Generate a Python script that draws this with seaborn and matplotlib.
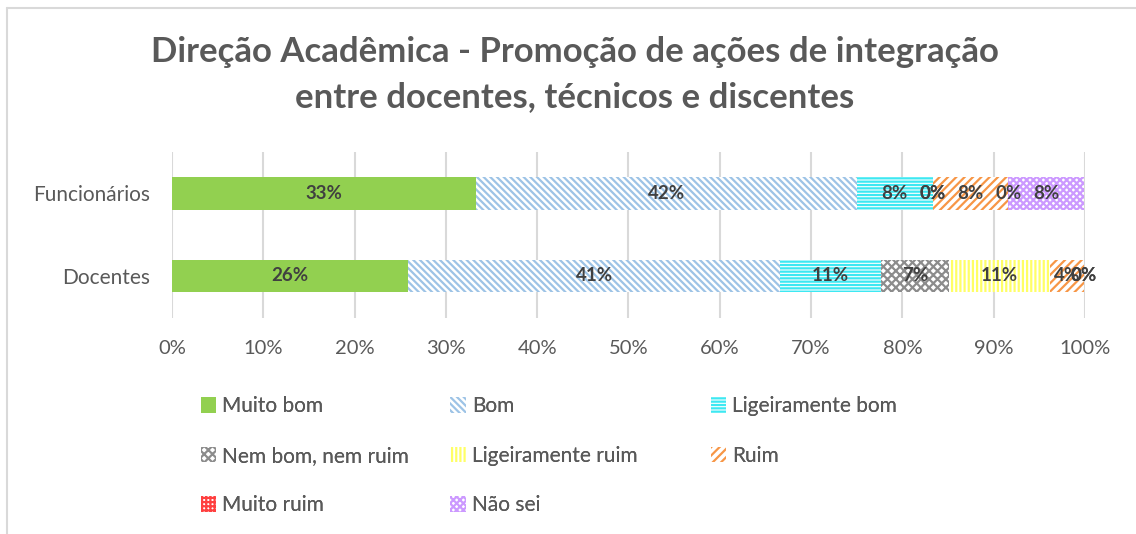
import numpy as np
import pandas as pd
import matplotlib
matplotlib.use("Agg")
import matplotlib.pyplot as plt
from matplotlib.patches import Patch
from matplotlib.lines import Line2D
import seaborn as sns

# --- data -------------------------------------------------------------
groups = ["Funcionários", "Docentes"]
categories = ["Muito bom", "Bom", "Ligeiramente bom", "Nem bom, nem ruim",
              "Ligeiramente ruim", "Ruim", "Muito ruim", "Não sei"]
funcionarios = [33.3, 41.7, 8.3, 0.0, 0.0, 8.3, 0.0, 8.3]
docentes = [25.9, 40.7, 11.1, 7.4, 11.1, 3.7, 0.0, 0.0]
xtick_labels = ["0%", "10%", "20%", "30%", "40%", "50%", "60%", "70%",
                "80%", "90%", "100%"]
title_text = ("Direção Acadêmica - Promoção de ações de integração\n"
              "entre docentes, técnicos e discentes")

# --- styles -----------------------------------------------------------
colors = ["#92D050", "#9DC3E6", "#3DE8F2", "#8C8C8C",
          "#FFFF66", "#F79646", "#FF4040", "#CC99FF"]
hatches = [None, "\\\\\\\\\\", "-----", "xxxx", "||||", "////", "++++", "xxxxx"]
text_grey = "#595959"

sns.set_theme(style="white")
plt.rcParams["font.family"] = ["Lato", "DejaVu Sans"]
plt.rcParams["hatch.linewidth"] = 1.6

fig = plt.figure(figsize=(11.36, 5.34), dpi=100)
ax = fig.add_axes([0.1514, 0.4045, 0.8037, 0.3109])

values = np.array([funcionarios, docentes])
cum = np.cumsum(values, axis=1)

# stacked bars: draw cumulative totals from the widest down, each covering the previous
for i in range(len(categories) - 1, -1, -1):
    df = pd.DataFrame({"grupo": groups, "total": cum[:, i]})
    solid = hatches[i] is None
    sns.barplot(data=df, x="total", y="grupo", orient="h", ax=ax,
                color=colors[i] if solid else "white", saturation=1,
                edgecolor=colors[i], linewidth=0, hatch=hatches[i],
                width=0.39)

# value labels centred in each segment
for g in range(len(groups)):
    for i in range(len(categories)):
        v = values[g, i]
        ax.text(cum[g, i] - v / 2, g, f"{v:.0f}%", ha="center", va="center",
                fontsize=13.5, fontweight="bold", color="#404040")

ax.set_xlim(0, 100)
ax.set_ylim(1.51, -0.503)
ax.set_xticks(np.arange(0, 101, 10))
ax.set_xticklabels(xtick_labels)
ax.set_xlabel("")
ax.set_ylabel("")
ax.grid(axis="x", color="#D9D9D9", linewidth=1.5)
ax.set_axisbelow(True)
for s in ax.spines.values():
    s.set_visible(False)
ax.tick_params(axis="x", length=0, pad=16, labelsize=14.5, labelcolor=text_grey)
ax.tick_params(axis="y", length=0, pad=16, labelsize=15, labelcolor=text_grey)

fig.text(0.506, 0.86, title_text, ha="center", va="center", fontsize=25,
         fontweight="bold", color=text_grey, linespacing=1.5)

# legend: three columns, filled row by row
handles = []
for i in range(len(categories)):
    if hatches[i] is None:
        handles.append(Patch(facecolor=colors[i], edgecolor=colors[i], linewidth=0))
    else:
        handles.append(Patch(facecolor="white", edgecolor=colors[i], linewidth=0,
                             hatch=hatches[i]))
columns = [[0, 3, 6], [1, 4, 7], [2, 5]]
col_x = [0.1765, 0.3965, 0.6255]
for idx, xpos in zip(columns, col_x):
    leg = fig.legend([handles[k] for k in idx], [categories[k] for k in idx],
                     ncol=1, loc="upper left", bbox_to_anchor=(xpos, 0.258),
                     frameon=False, fontsize=15, labelcolor=text_grey,
                     handlelength=0.75, handleheight=0.75, handletextpad=0.3,
                     labelspacing=1.42, borderaxespad=0, borderpad=0)
    fig.add_artist(leg)

# chart frame edges
fig.add_artist(Line2D([0.0062, 0.0062], [0.0, 0.985], color="#D9D9D9", lw=1.5))
fig.add_artist(Line2D([0.0062, 1.0], [0.985, 0.985], color="#D9D9D9", lw=1.5))

fig.savefig("out.png", dpi=100, facecolor="white")
